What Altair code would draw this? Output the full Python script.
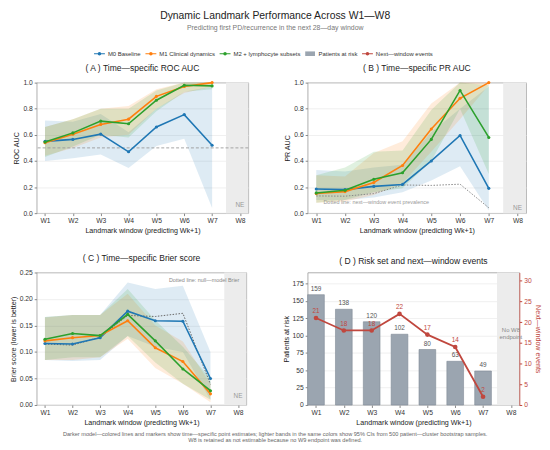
import altair as alt
import pandas as pd

# ---------------- data ----------------
windows = ["W1", "W2", "W3", "W4", "W5", "W6", "W7", "W8"]
est_idx = [1, 2, 3, 4, 5, 6, 7]
models = ["M0 Baseline", "M1 Clinical dynamics", "M2 + lymphocyte subsets"]
legend_items = models + ["Patients at risk", "Next—window events"]
colors = ["#1f77b4", "#ff7f0e", "#2ca02c", "#9ba5b0", "#c0473e"]

roc_est = [[0.55, 0.565, 0.605, 0.47, 0.66, 0.755, 0.52],
           [0.54, 0.605, 0.68, 0.72, 0.895, 0.97, 1.0],
           [0.545, 0.615, 0.705, 0.685, 0.865, 0.98, 0.975]]
roc_lo = [[0.40, 0.42, 0.45, 0.345, 0.515, 0.57, 0.04],
          [0.44, 0.50, 0.58, 0.60, 0.80, 0.92, 0.97],
          [0.43, 0.51, 0.60, 0.58, 0.78, 0.93, 0.95]]
roc_hi = [[0.71, 0.70, 0.76, 0.62, 0.80, 0.93, 0.97],
          [0.66, 0.72, 0.80, 0.82, 0.95, 1.0, 1.0],
          [0.66, 0.72, 0.80, 0.80, 0.94, 1.0, 1.0]]

pr_est = [[0.185, 0.18, 0.205, 0.22, 0.40, 0.595, 0.19],
          [0.15, 0.165, 0.235, 0.365, 0.645, 0.88, 1.0],
          [0.155, 0.175, 0.26, 0.31, 0.565, 0.94, 0.58]]
pr_lo = [[0.10, 0.10, 0.12, 0.16, 0.25, 0.36, 0.02],
         [0.08, 0.09, 0.14, 0.23, 0.47, 0.72, 0.98],
         [0.08, 0.10, 0.16, 0.19, 0.40, 0.80, 0.30]]
pr_hi = [[0.33, 0.32, 0.35, 0.37, 0.62, 0.80, 0.97],
         [0.29, 0.28, 0.46, 0.55, 0.84, 1.0, 1.0],
         [0.29, 0.35, 0.47, 0.48, 0.79, 1.0, 0.98]]
prevalence = [0.132, 0.130, 0.150, 0.216, 0.2125, 0.222, 0.041]

brier_est = [[0.116, 0.115, 0.127, 0.177, 0.159, 0.158, 0.05],
             [0.121, 0.127, 0.131, 0.159, 0.108, 0.082, 0.021],
             [0.124, 0.135, 0.131, 0.171, 0.121, 0.068, 0.027]]
brier_lo = [[0.085, 0.083, 0.085, 0.13, 0.11, 0.10, 0.01],
            [0.085, 0.085, 0.09, 0.125, 0.07, 0.04, 0.005],
            [0.085, 0.09, 0.09, 0.13, 0.08, 0.04, 0.01]]
brier_hi = [[0.166, 0.17, 0.17, 0.231, 0.219, 0.225, 0.10],
            [0.165, 0.17, 0.17, 0.21, 0.15, 0.12, 0.04],
            [0.166, 0.17, 0.17, 0.219, 0.16, 0.11, 0.05]]
null_brier = [0.115, 0.113, 0.128, 0.169, 0.167, 0.173, 0.039]

at_risk = [159, 138, 120, 102, 80, 63, 49]
events = [21, 18, 18, 22, 17, 14, 2]

FONT = "Liberation Sans"
XDOM = [0.7, 8.3]


def model_df(est, lo, hi):
    rows = []
    for m, e, l, h in zip(models, est, lo, hi):
        for w, a, b, c in zip(est_idx, e, l, h):
            rows.append(dict(model=m, w=w, est=a, lo=b, hi=c))
    return pd.DataFrame(rows)


def xaxis():
    return alt.Axis(values=list(range(1, 9)), labelExpr="'W' + datum.value",
                    title="Landmark window (predicting Wk+1)", grid=False)


X = alt.X("w:Q", scale=alt.Scale(domain=XDOM, nice=False, zero=False), axis=xaxis())
XR = alt.X("x0:Q", scale=alt.Scale(domain=XDOM, nice=False, zero=False), axis=xaxis())


def panel(est, lo, hi, title, ytitle, domain, values, fmt, extras_fn, ne_y, w, h, first=None):
    df = model_df(est, lo, hi)
    ysc = alt.Scale(domain=domain, nice=False, zero=False)
    yax = alt.Axis(title=ytitle, values=values, format=fmt)

    def Y(f):
        return alt.Y(f"{f}:Q", scale=ysc, axis=yax, stack=None)

    ne = alt.Chart(pd.DataFrame({"x0": [7.5], "x1": [XDOM[1]], "y0": [domain[0]], "y1": [domain[1]]})).mark_rect(
        color="#ececec").encode(x=XR, x2="x1:Q", y=Y("y0"), y2="y1:Q")
    ne_txt = alt.Chart(pd.DataFrame({"w": [8.0], "y": [ne_y], "t": ["NE"]})).mark_text(
        fontSize=6.5, color="#999", font=FONT).encode(x=X, y=Y("y"), text="t:N")
    base = alt.Chart(df)
    bands, lines = [], []
    for m, c in zip(models, colors):
        sub = base.transform_filter(alt.datum.model == m)
        bands.append(sub.mark_area(opacity=0.15, color=c).encode(x=X, y=Y("lo"), y2="hi:Q"))
        lines.append(sub.mark_line(strokeWidth=1.6, color=c).encode(x=X, y=Y("est")))
        lines.append(sub.mark_circle(size=10, opacity=1, color=c).encode(x=X, y=Y("est")))
    layers = ([first] if first is not None else []) + [ne, ne_txt] + bands + extras_fn(Y) + lines
    return alt.layer(*layers).properties(width=w, height=h, title=title)


# legend carrier (invisible points); the legend is drawn from the colour/shape scales
lp = ("M-1,-0.09L-0.3,-0.09L-0.3,0.09L-1,0.09Z M0.3,-0.09L1,-0.09L1,0.09L0.3,0.09Z "
      "M0.32,0A0.32,0.32,0,1,1,-0.32,0A0.32,0.32,0,1,1,0.32,0Z")
rp = "M-0.9,-0.42L0.9,-0.42L0.9,0.42L-0.9,0.42Z"
legend_shapes = [lp, lp, lp, rp, lp]
leg = alt.Legend(orient="none", direction="horizontal", legendX=58, legendY=-35, title=None,
                 labelFontSize=6, labelFont=FONT, labelColor="#333", symbolSize=121,
                 symbolOpacity=1, symbolStrokeWidth=0, columnPadding=4, labelOffset=3)
legend_layer = alt.Chart(pd.DataFrame({"item": legend_items})).mark_point(
    filled=True, opacity=0).encode(
    x=alt.value(0), y=alt.value(0),
    color=alt.Color("item:N", scale=alt.Scale(domain=legend_items, range=colors), legend=leg),
    shape=alt.Shape("item:N", scale=alt.Scale(domain=legend_items, range=legend_shapes), legend=leg))


def extras_a(Y):
    ref = alt.Chart(pd.DataFrame({"ref": [0.5]})).mark_rule(
        strokeDash=[3, 2], color="#999", strokeWidth=0.9).encode(y=Y("ref"))
    return [ref]


pA = panel(roc_est, roc_lo, roc_hi, "( A ) Time—specific ROC AUC", "ROC AUC", [0, 1.0],
           [0, 0.2, 0.4, 0.6, 0.8, 1.0], ".1f", extras_a, 0.06, 214, 132, first=legend_layer)


def extras_b(Y):
    d = pd.DataFrame({"w": est_idx, "p": prevalence})
    dl = alt.Chart(d).mark_line(strokeDash=[1.5, 1.5], color="#888", strokeWidth=1).encode(x=X, y=Y("p"))
    note = alt.Chart(pd.DataFrame({"w": [1.25], "y": [0.085], "t": ["Dotted line: next—window event prevalence"]})).mark_text(
        align="left", fontSize=5.5, color="#999", font=FONT).encode(x=X, y=Y("y"), text="t:N")
    return [dl, note]


pB = panel(pr_est, pr_lo, pr_hi, "( B ) Time—specific PR AUC", "PR AUC", [0, 1.0],
           [0, 0.2, 0.4, 0.6, 0.8, 1.0], ".1f", extras_b, 0.04, 221, 132)


def extras_c(Y):
    d = pd.DataFrame({"w": est_idx, "p": null_brier})
    dl = alt.Chart(d).mark_line(strokeDash=[1.5, 1.5], color="#666", strokeWidth=1).encode(x=X, y=Y("p"))
    note = alt.Chart(pd.DataFrame({"w": [8.05], "y": [0.236], "t": ["Dotted line: null—model Brier"]})).mark_text(
        align="right", fontSize=5.5, color="#888", font=FONT).encode(x=X, y=Y("y"), text="t:N")
    return [dl, note]


pC = panel(brier_est, brier_lo, brier_hi, "( C ) Time—specific Brier score", "Brier score (lower is better)",
           [0, 0.25], [0, 0.05, 0.10, 0.15, 0.20, 0.25], ".2f", extras_c, 0.016, 212, 134)

# ---- D ----
red = colors[4]
dd = pd.DataFrame({"w": est_idx, "risk": at_risk, "ev": events})
dd["x0"] = dd["w"] - 0.3
dd["x1"] = dd["w"] + 0.3
dd["base"] = 0
lsc = alt.Scale(domain=[0, 191], nice=False, zero=True)
lax = alt.Axis(title="Patients at risk", values=[0, 25, 50, 75, 100, 125, 150, 175])
rsc = alt.Scale(domain=[0, 32], nice=False, zero=True)
rax = alt.Axis(title="Next—window events", orient="right", values=[0, 5, 10, 15, 20, 25, 30],
               titleColor=red, labelColor=red, tickColor=red, domain=True, domainColor=red, grid=False)


def YL(f):
    return alt.Y(f"{f}:Q", scale=lsc, axis=lax)


def YR(f):
    return alt.Y(f"{f}:Q", scale=rsc, axis=rax)


neD = alt.Chart(pd.DataFrame({"x0": [7.5], "x1": [XDOM[1]], "y0": [0], "y1": [191]})).mark_rect(
    color="#ececec").encode(x=XR, x2="x1:Q", y=YL("y0"), y2="y1:Q")
neD_txt = alt.Chart(pd.DataFrame({"w": [8.0], "y": [108], "t": ["No W8\nendpoint"]})).mark_text(
    fontSize=6, color="#888", font=FONT, lineBreak="\n", lineHeight=7).encode(x=X, y=YL("y"), text="t:N")
bars = alt.Chart(dd).mark_bar(color="#9ba5b0", stroke="#7f8a95", strokeWidth=0.6).encode(
    x=XR, x2="x1:Q", y=YL("risk"), y2="base:Q")
bar_txt = alt.Chart(dd).mark_text(dy=-6, fontSize=6.5, color="#555", font=FONT).encode(
    x=X, y=YL("risk"), text="risk:Q")
left = alt.layer(neD, neD_txt, bars, bar_txt)
ev_line = alt.Chart(dd).mark_line(color=red, strokeWidth=1.8).encode(x=X, y=YR("ev"))
ev_pts = alt.Chart(dd).mark_circle(color=red, size=22, opacity=1).encode(x=X, y=YR("ev"))
ev_txt = alt.Chart(dd).mark_text(dy=-7, fontSize=6.5, color=red, font=FONT).encode(
    x=X, y=YR("ev"), text="ev:Q")
right = alt.layer(ev_line, ev_pts, ev_txt)
pD = alt.layer(left, right).resolve_scale(y="independent").properties(
    width=214, height=134, title="( D ) Risk set and next—window events")

row1 = alt.hconcat(pA, pB, spacing=34)
row2 = alt.hconcat(pC, pD, spacing=34)
grid = alt.vconcat(row1, row2, spacing=20).properties(
    title=alt.TitleParams(
        ["Darker model—colored lines and markers show time—specific point estimates; lighter bands in the same colors show 95% CIs from 500 patient—cluster bootstrap samples.",
         "W8 is retained as not estimable because no W9 endpoint was defined."],
        orient="bottom", anchor="middle", fontSize=5.65, fontWeight="normal", color="#666",
        font=FONT, offset=6, lineHeight=6.5))

chart = alt.vconcat(grid).properties(
    title=alt.TitleParams("Dynamic Landmark Performance Across W1—W8",
                          subtitle="Predicting first PD/recurrence in the next 28—day window",
                          anchor="middle", fontSize=10.5, fontWeight="normal", font=FONT, color="#222",
                          subtitleFont=FONT, subtitleFontSize=7.0, subtitleColor="#777", subtitlePadding=3,
                          offset=17),
    padding={"left": 0, "right": 0, "top": 0, "bottom": 0},
).configure_view(stroke="#999", strokeWidth=0.8).configure_axis(
    labelFontSize=6.8, titleFontSize=7.2, labelFont=FONT, titleFont=FONT, labelColor="#333",
    titleColor="#222", titleFontWeight="normal", tickColor="#888", tickSize=2.5, domain=False,
    gridColor="#e6e6e6", gridWidth=0.6, labelPadding=2, titlePadding=2
).configure_title(fontSize=8.6, fontWeight="normal", font=FONT, color="#222", offset=7)

chart.save("out.html", embed_options={"renderer": "svg", "actions": False})
